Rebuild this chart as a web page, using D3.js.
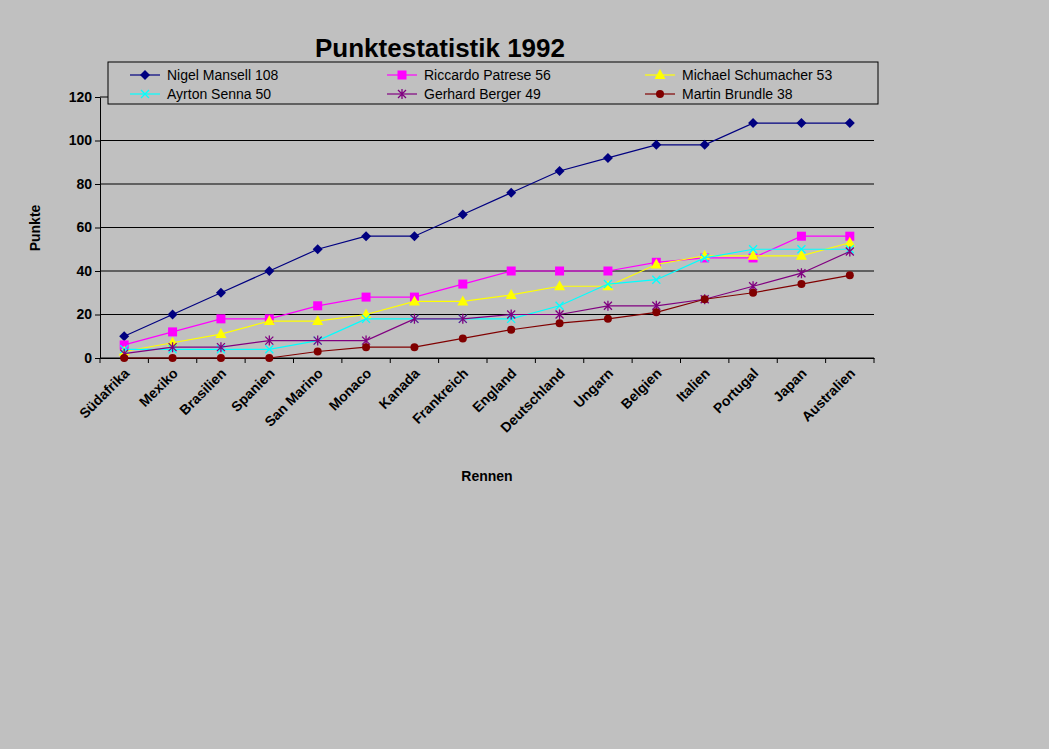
<!DOCTYPE html>
<html>
<head>
<meta charset="utf-8">
<style>
  body { margin: 0; background: #c0c0c0; }
  text { font-family: "Liberation Sans", Arial, sans-serif; }
</style>
</head>
<body>
<svg id="chart" width="1049" height="749"></svg>
<script src="https://d3js.org/d3.v7.min.js"></script>
<script>
const races = ["Südafrika", "Mexiko", "Brasilien", "Spanien", "San Marino", "Monaco", "Kanada",
  "Frankreich", "England", "Deutschland", "Ungarn", "Belgien", "Italien", "Portugal", "Japan", "Australien"];
const mansell = [10, 20, 30, 40, 50, 56, 56, 66, 76, 86, 92, 98, 98, 108, 108, 108];
const patrese = [6, 12, 18, 18, 24, 28, 28, 34, 40, 40, 40, 44, 46, 46, 56, 56];
const schumacher = [3, 7, 11, 17, 17, 20, 26, 26, 29, 33, 33, 43, 47, 47, 47, 53];
const senna = [4, 4, 4, 4, 8, 18, 18, 18, 18, 24, 34, 36, 46, 50, 50, 50];
const berger = [2, 5, 5, 8, 8, 8, 18, 18, 20, 20, 24, 24, 27, 33, 39, 49];
const brundle = [0, 0, 0, 0, 3, 5, 5, 9, 13, 16, 18, 21, 27, 30, 34, 38];
const yTicks = [0, 20, 40, 60, 80, 100, 120];

const series = [
  { name: "Nigel Mansell 108", values: mansell, color: "#000080", marker: "diamond" },
  { name: "Riccardo Patrese 56", values: patrese, color: "#ff00ff", marker: "square" },
  { name: "Michael Schumacher 53", values: schumacher, color: "#ffff00", marker: "triangle" },
  { name: "Ayrton Senna 50", values: senna, color: "#00ffff", marker: "x" },
  { name: "Gerhard Berger 49", values: berger, color: "#800080", marker: "star" },
  { name: "Martin Brundle 38", values: brundle, color: "#800000", marker: "circle" }
];

const svg = d3.select("#chart");
const plotLeft = 100, plotRight = 874, plotTop = 97, plotBottom = 358;

const x = d3.scaleBand().domain(races).range([plotLeft, plotRight]);
const y = d3.scaleLinear().domain([0, 120]).range([plotBottom, plotTop]);

// gridlines
svg.append("g").selectAll("line").data(yTicks).join("line")
  .attr("x1", plotLeft).attr("x2", plotRight)
  .attr("y1", d => y(d)).attr("y2", d => y(d))
  .attr("stroke", "#000").attr("stroke-width", 1);

// axes
svg.append("g").attr("transform", `translate(${plotLeft},0)`)
  .call(d3.axisLeft(y).tickValues(yTicks).tickSize(5).tickSizeOuter(0))
  .call(g => g.selectAll("text").attr("font-size", 14).attr("font-weight", "bold").attr("fill", "#000"));

svg.append("g").attr("transform", `translate(0,${plotBottom})`)
  .call(d3.axisBottom(x).tickSize(0).tickSizeOuter(0))
  .call(g => g.selectAll("text")
    .attr("font-size", 14).attr("font-weight", "bold").attr("fill", "#000")
    .attr("text-anchor", "end").attr("dy", 0)
    .attr("transform", "translate(4,14) rotate(-45)"));

// category separator ticks
svg.append("g").selectAll("line").data(d3.range(races.length + 1)).join("line")
  .attr("x1", i => plotLeft + i * x.step()).attr("x2", i => plotLeft + i * x.step())
  .attr("y1", plotBottom).attr("y2", plotBottom + 5).attr("stroke", "#000");

svg.selectAll(".domain").attr("stroke", "#000");

const cx = d => x(d) + x.bandwidth() / 2;

function drawMarker(g, type, color) {
  if (type === "diamond") g.append("path").attr("d", "M0,-5L5,0L0,5L-5,0Z").attr("fill", color);
  else if (type === "square") g.append("rect").attr("x", -4.5).attr("y", -4.5).attr("width", 9).attr("height", 9).attr("fill", color);
  else if (type === "triangle") g.append("path").attr("d", "M0,-6L5.5,4L-5.5,4Z").attr("fill", color);
  else if (type === "circle") g.append("circle").attr("r", 4).attr("fill", color);
  else if (type === "x") g.append("path").attr("d", "M-4,-4L4,4M-4,4L4,-4").attr("stroke", color).attr("stroke-width", 1.3);
  else if (type === "star") g.append("path").attr("d", "M-4,-4L4,4M-4,4L4,-4M0,-5L0,5").attr("stroke", color).attr("stroke-width", 1.3);
}

const line = d3.line().x((d, i) => cx(races[i])).y(d => y(d));
series.forEach(s => {
  svg.append("path").datum(s.values).attr("d", line)
    .attr("fill", "none").attr("stroke", s.color).attr("stroke-width", 1.2);
  s.values.forEach((v, i) => {
    const g = svg.append("g").attr("transform", `translate(${cx(races[i])},${y(v)})`);
    drawMarker(g, s.marker, s.color);
  });
});

// title & labels
svg.append("text").attr("x", 440).attr("y", 57).attr("text-anchor", "middle")
  .attr("font-size", 26).attr("font-weight", "bold").text("Punktestatistik 1992");
svg.append("text").attr("transform", "translate(40,228) rotate(-90)").attr("text-anchor", "middle")
  .attr("font-size", 14).attr("font-weight", "bold").text("Punkte");
svg.append("text").attr("x", 487).attr("y", 481).attr("text-anchor", "middle")
  .attr("font-size", 14).attr("font-weight", "bold").text("Rennen");

// legend
svg.append("rect").attr("x", 108).attr("y", 62).attr("width", 770).attr("height", 42)
  .attr("fill", "#c0c0c0").attr("stroke", "#000");
const colX = [130, 387, 645];
series.forEach((s, i) => {
  const lx = colX[i % 3], ly = 75 + Math.floor(i / 3) * 19;
  svg.append("line").attr("x1", lx).attr("x2", lx + 30).attr("y1", ly).attr("y2", ly)
    .attr("stroke", s.color).attr("stroke-width", 1.2);
  drawMarker(svg.append("g").attr("transform", `translate(${lx + 15},${ly})`), s.marker, s.color);
  svg.append("text").attr("x", lx + 37).attr("y", ly + 5).attr("font-size", 14).text(s.name);
});
</script>
</body>
</html>
